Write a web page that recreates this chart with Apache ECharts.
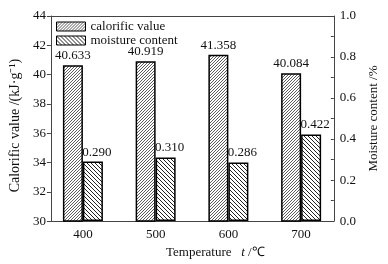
<!DOCTYPE html>
<html><head><meta charset="utf-8">
<script src="https://cdn.jsdelivr.net/npm/echarts@6/dist/echarts.min.js"></script>
<style>html,body{margin:0;padding:0;background:#fff}#c{width:388px;height:264px}</style>
</head><body><div id="c"></div>
<script>
var temperatures = [400, 500, 600, 700];
var calorificValue = [40.633, 40.919, 41.358, 40.084];
var moistureContent = [0.290, 0.310, 0.286, 0.422];
var leftTicks = [30, 32, 34, 36, 38, 40, 42, 44];
var rightTicks = [0.0, 0.2, 0.4, 0.6, 0.8, 1.0];

function hatch(size, lw, color, forward) {
  var c = document.createElement('canvas');
  c.width = size; c.height = size;
  var g = c.getContext('2d');
  g.fillStyle = '#fff'; g.fillRect(0, 0, size, size);
  g.strokeStyle = color; g.lineWidth = lw;
  for (var k = -size; k <= size; k += size) {
    g.beginPath();
    if (forward) { g.moveTo(k, size); g.lineTo(k + size, 0); }
    else { g.moveTo(k, 0); g.lineTo(k + size, size); }
    g.stroke();
  }
  return { image: c, repeat: 'repeat' };
}

var font = 'Liberation Serif';
var chart = echarts.init(document.getElementById('c'));
chart.setOption({
  animation: false,
  backgroundColor: '#fff',
  grid: { left: 49, right: 47, top: 16, bottom: 40 },
  legend: {
    orient: 'vertical', left: 56, top: 20, padding: 0, itemWidth: 29, itemHeight: 9, itemGap: 1,
    icon: 'rect',
    textStyle: { fontFamily: font, fontSize: 13, color: '#111' },
    itemStyle: { borderColor: '#000', borderWidth: 1 },
    data: ['calorific value', 'moisture content']
  },
  xAxis: [{
    type: 'value', min: 356, max: 745, position: 'bottom',
    axisLine: { lineStyle: { color: '#444', width: 1 } },
    axisTick: { show: false }, splitLine: { show: false },
    axisLabel: { showMinLabel: false, showMaxLabel: false, fontFamily: font, fontSize: 13, color: '#111', margin: 7,
      formatter: function (v) { return temperatures.indexOf(v) >= 0 ? String(v) : ''; } },
    name: 'Temperature   {i|t} /℃', nameLocation: 'middle', nameGap: 22,
    nameTextStyle: { fontFamily: font, fontSize: 13, color: '#111', padding: [0, 0, 0, 46],
      rich: { i: { fontFamily: font, fontSize: 13, fontStyle: 'italic', color: '#111' } } }
  }, {
    type: 'value', min: 356, max: 745, position: 'top',
    axisLine: { lineStyle: { color: '#444', width: 1 } },
    axisTick: { show: false }, axisLabel: { show: false }, splitLine: { show: false }
  }],
  yAxis: [{
    type: 'value', min: leftTicks[0], max: leftTicks[leftTicks.length - 1], interval: 2,
    axisLine: { show: true, lineStyle: { color: '#444', width: 1 } },
    axisTick: { show: true, length: 4, lineStyle: { color: '#444' } },
    splitLine: { show: false },
    axisLabel: { fontFamily: font, fontSize: 13, color: '#111', margin: 5 },
    name: 'Calorific value /(kJ·g⁻¹)    ', nameLocation: 'middle', nameGap: 24,
    nameTextStyle: { fontFamily: font, fontSize: 14, color: '#111' }
  }, {
    type: 'value', min: 0, max: 1, interval: 0.1, position: 'right',
    axisLine: { show: true, lineStyle: { color: '#444', width: 1 } },
    axisTick: { show: true, inside: true, length: 3, lineStyle: { color: '#444' } },
    splitLine: { show: false },
    axisLabel: { fontFamily: font, fontSize: 13, color: '#111', margin: 6, interval: 1,
      formatter: function (v) { var s = v.toFixed(1); return rightTicks.map(function (t) { return t.toFixed(1); }).indexOf(s) >= 0 ? s : ''; } },
    name: 'Moisture content /%', nameLocation: 'middle', nameGap: 28, nameRotate: 90,
    nameTextStyle: { fontFamily: font, fontSize: 13, color: '#111' }
  }],
  series: [{
    name: 'calorific value', type: 'bar', xAxisIndex: 0, yAxisIndex: 0,
    barWidth: 20, barGap: '0%',
    data: temperatures.map(function (t, i) { return [t, calorificValue[i]]; }),
    itemStyle: { color: hatch(3, 0.8, '#333', true), borderColor: '#000', borderWidth: 1.5 },
    label: { show: true, position: 'top', distance: 3, fontFamily: font, fontSize: 13, color: '#111',
      formatter: function (p) { return p.value[1].toFixed(3); } }
  }, {
    name: 'moisture content', type: 'bar', xAxisIndex: 0, yAxisIndex: 1,
    barWidth: 20, barGap: '0%',
    data: temperatures.map(function (t, i) { return [t, moistureContent[i]]; }),
    itemStyle: { color: hatch(4, 1, '#222', false), borderColor: '#000', borderWidth: 1.5 },
    label: { show: true, position: 'top', distance: 3, offset: [4, 0], fontFamily: font, fontSize: 13, color: '#111',
      formatter: function (p) { return p.value[1].toFixed(3); } }
  }]
});
</script></body></html>
